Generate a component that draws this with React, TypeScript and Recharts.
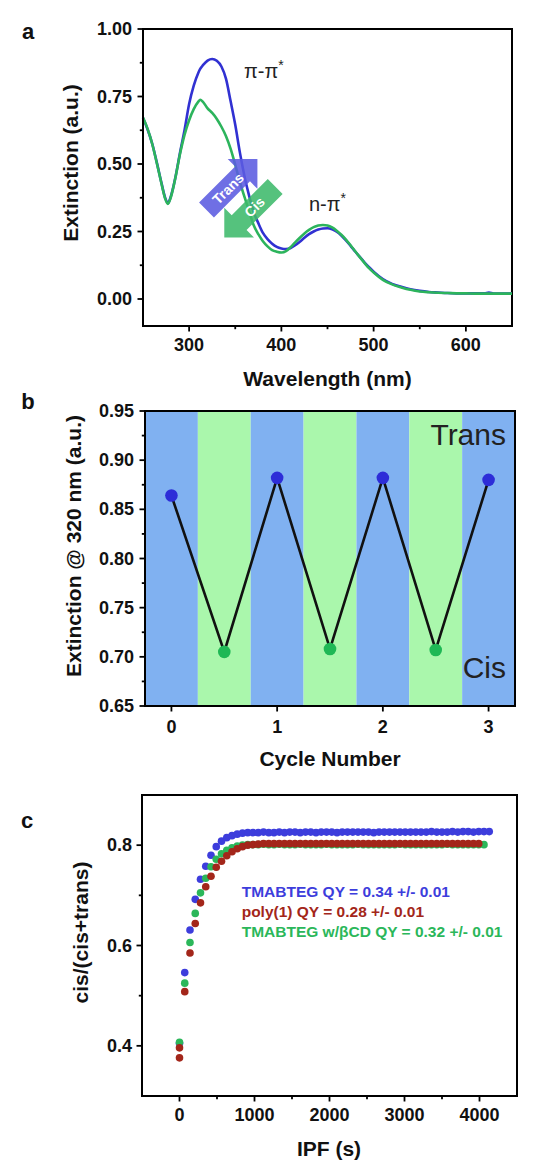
import React from 'react'
import { LineChart, Line, ComposedChart, ScatterChart, Scatter, XAxis, YAxis, ReferenceArea } from 'recharts'

const FONT = '"Liberation Sans", Arial, Helvetica, sans-serif'

// ---- panel a: extinction spectra ----
const WAVELENGTHS = [
  250, 255, 260, 265, 270, 274, 277, 280, 285, 290, 295, 300, 305, 310, 312, 315, 320, 325, 330, 335,
  340, 345, 350, 355, 360, 365, 370, 375, 380, 385, 390, 395, 400, 405, 410, 415, 420, 425, 430, 435,
  440, 445, 450, 455, 460, 465, 470, 475, 480, 485, 490, 495, 500, 510, 520, 530, 540, 550, 560, 570,
  580, 590, 600, 610, 620, 625, 630, 640, 650,
]
const TRANS_SPECTRUM = [
  0.670, 0.628, 0.575, 0.505, 0.430, 0.375, 0.355, 0.378, 0.448, 0.540, 0.625, 0.722, 0.790, 0.838, 0.852, 0.866, 0.883, 0.889, 0.882, 0.861,
  0.815, 0.732, 0.645, 0.543, 0.455, 0.383, 0.322, 0.281, 0.245, 0.222, 0.205, 0.193, 0.187, 0.185, 0.189, 0.199, 0.212, 0.227, 0.240, 0.250,
  0.257, 0.261, 0.262, 0.258, 0.249, 0.235, 0.217, 0.197, 0.176, 0.156, 0.136, 0.118, 0.101, 0.074, 0.056, 0.045, 0.036, 0.030, 0.026, 0.024,
  0.022, 0.021, 0.021, 0.021, 0.021, 0.024, 0.020, 0.020, 0.020,
]
const CIS_SPECTRUM = [
  0.672, 0.630, 0.574, 0.503, 0.428, 0.372, 0.352, 0.375, 0.447, 0.535, 0.608, 0.662, 0.703, 0.731, 0.738, 0.730, 0.706, 0.689, 0.667, 0.638,
  0.603, 0.556, 0.497, 0.434, 0.378, 0.325, 0.273, 0.240, 0.214, 0.195, 0.181, 0.175, 0.172, 0.177, 0.192, 0.210, 0.227, 0.243, 0.256, 0.266,
  0.272, 0.274, 0.272, 0.265, 0.253, 0.238, 0.220, 0.199, 0.177, 0.155, 0.134, 0.114, 0.098, 0.071, 0.054, 0.043, 0.034, 0.028, 0.025, 0.023,
  0.022, 0.021, 0.021, 0.020, 0.020, 0.020, 0.020, 0.020, 0.020,
]

// ---- panel b: switching cycles ----
const CYCLES = [0, 0.5, 1, 1.5, 2, 2.5, 3]
const EXT_320 = [0.864, 0.705, 0.882, 0.708, 0.882, 0.707, 0.880]
const BAND_EDGES = [-0.25, 0.25, 0.75, 1.25, 1.75, 2.25, 2.75, 3.25]

// ---- panel c: photostationary kinetics ----
const IPF_TIMES = [
  0, 70, 140, 210, 280, 350, 420, 490, 560, 630, 700, 770, 840, 910, 980, 1050, 1120, 1190, 1260, 1330,
  1400, 1470, 1540, 1610, 1680, 1750, 1820, 1890, 1960, 2030, 2100, 2170, 2240, 2310, 2380, 2450, 2520, 2590, 2660, 2730,
  2800, 2870, 2940, 3010, 3080, 3150, 3220, 3290, 3360, 3430, 3500, 3570, 3640, 3710, 3780, 3850, 3920, 3990, 4060, 4130,
]
const TMABTEG = [
  0.405, 0.546, 0.631, 0.692, 0.732, 0.758, 0.780, 0.797, 0.808, 0.815, 0.819, 0.822, 0.824, 0.825, 0.825,
  0.825, 0.826, 0.825, 0.825, 0.826, 0.825, 0.826, 0.826, 0.825, 0.826, 0.826, 0.825, 0.826, 0.826, 0.826,
  0.825, 0.826, 0.826, 0.826, 0.826, 0.826, 0.826, 0.825, 0.826, 0.826, 0.826, 0.826, 0.826, 0.826, 0.826,
  0.826, 0.826, 0.826, 0.827, 0.826, 0.826, 0.826, 0.827, 0.826, 0.827, 0.827, 0.826, 0.827, 0.827, 0.827,
]
const POLY1 = [
  0.396, 0.508, 0.585, 0.644, 0.685, 0.717, 0.738, 0.756, 0.768, 0.779, 0.787, 0.793, 0.797, 0.800, 0.801, 0.802,
  0.803, 0.803, 0.803, 0.803, 0.803, 0.803, 0.803, 0.803, 0.803, 0.803, 0.803, 0.803, 0.803, 0.803, 0.803,
  0.803, 0.803, 0.803, 0.803, 0.803, 0.803, 0.803, 0.803, 0.803, 0.803, 0.803, 0.803, 0.803, 0.803, 0.803,
  0.803, 0.803, 0.803, 0.803, 0.803, 0.803, 0.803, 0.803, 0.803, 0.803, 0.803, 0.803,
]
const POLY1_EXTRA_T = [0]
const POLY1_EXTRA_V = [0.376]
const TMABTEG_CD = [
  0.407, 0.525, 0.606, 0.664, 0.705, 0.734, 0.757, 0.772, 0.783, 0.790, 0.795, 0.798, 0.800, 0.801,
  0.801, 0.801, 0.802, 0.801, 0.801, 0.802, 0.801, 0.801, 0.801, 0.802, 0.801, 0.801, 0.801, 0.801, 0.802,
  0.801, 0.801, 0.801, 0.801, 0.801, 0.802, 0.801, 0.801, 0.801, 0.801, 0.801, 0.801, 0.801, 0.802, 0.801,
  0.801, 0.801, 0.801, 0.801, 0.801, 0.801, 0.801, 0.802, 0.801, 0.801, 0.801, 0.801, 0.801, 0.801, 0.801,
]
const LEGEND_LINES = [
  'TMABTEG QY = 0.34 +/- 0.01',
  'poly(1) QY = 0.28 +/- 0.01',
  'TMABTEG w/\u03b2CD QY = 0.32 +/- 0.01',
]

const C = {
  transLine: '#3131d2',
  cisLine: '#2cb45c',
  transArrow: '#5b5be0',
  cisArrow: '#3dba6b',
  bandBlue: '#80b1f1',
  bandGreen: '#aaf7ac',
  dotBlue: '#2d2dd8',
  dotGreen: '#1fb855',
  cBlue: '#3d3ddc',
  cRed: '#a3261a',
  cGreen: '#2bb75a',
}

const tickText = { fontFamily: FONT, fontWeight: 700, fontSize: 18, fill: '#111' }
const titleText = { fontFamily: FONT, fontWeight: 700, fontSize: 21, fill: '#111' }

// draws Origin-style outward ticks, labels only on the majors
function axisTick(side: 'bottom' | 'left', majors: number[], digits: number, gap: number) {
  return (props: any) => {
    const { x, y, payload } = props
    const v = payload.value as number
    const major = majors.some((m) => Math.abs(m - v) < 1e-6)
    const len = major ? 5.5 : 3.2
    if (side === 'bottom') {
      return (
        <g>
          <line x1={x} y1={y} x2={x} y2={y + len} stroke="#000" strokeWidth={1.8} />
          {major && (
            <text x={x} y={y + gap} textAnchor="middle" dominantBaseline="central" style={tickText}>
              {v.toFixed(digits)}
            </text>
          )}
        </g>
      )
    }
    return (
      <g>
        <line x1={x - len} y1={y} x2={x} y2={y} stroke="#000" strokeWidth={1.8} />
        {major && (
          <text x={x - gap} y={y} textAnchor="end" dominantBaseline="central" style={tickText}>
            {v.toFixed(digits)}
          </text>
        )}
      </g>
    )
  }
}

const axisLine = { stroke: '#000', strokeWidth: 2 }

function SpectraChart() {
  const data = WAVELENGTHS.map((wl, i) => ({ wl, trans: TRANS_SPECTRUM[i], cis: CIS_SPECTRUM[i] }))
  return (
    <LineChart width={548} height={390} data={data} margin={{ top: 29, right: 36, bottom: 4, left: 83 }}>
      <XAxis
        type="number"
        dataKey="wl"
        domain={[250, 650]}
        ticks={[300, 350, 400, 450, 500, 550, 600]}
        interval={0}
        height={60}
        tickSize={0}
        tickMargin={0}
        tickLine={false}
        axisLine={axisLine}
        tick={axisTick('bottom', [300, 400, 500, 600], 0, 19)}
      />
      <YAxis
        type="number"
        domain={[-0.1, 1]}
        ticks={[0, 0.125, 0.25, 0.375, 0.5, 0.625, 0.75, 0.875, 1]}
        interval={0}
        width={60}
        tickSize={0}
        tickMargin={0}
        tickLine={false}
        axisLine={axisLine}
        tick={axisTick('left', [0, 0.25, 0.5, 0.75, 1], 2, 11)}
      />
      <Line type="monotone" dataKey="trans" stroke={C.transLine} strokeWidth={2.6} dot={false} isAnimationActive={false} />
      <Line type="monotone" dataKey="cis" stroke={C.cisLine} strokeWidth={2.6} dot={false} isAnimationActive={false} />
      <ReferenceArea x1={250} x2={650} y1={-0.1} y2={1} fill="none" fillOpacity={0} stroke="#000" strokeWidth={2} />
    </LineChart>
  )
}

function CycleChart() {
  const data = CYCLES.map((cycle, i) => ({ cycle, ext: EXT_320[i] }))
  return (
    <ComposedChart width={548} height={390} data={data} margin={{ top: 21, right: 33, bottom: 14, left: 85 }}>
      <XAxis
        type="number"
        dataKey="cycle"
        domain={[-0.25, 3.25]}
        ticks={[0, 1, 2, 3]}
        interval={0}
        height={60}
        tickSize={0}
        tickMargin={0}
        tickLine={false}
        axisLine={axisLine}
        tick={axisTick('bottom', [0, 1, 2, 3], 0, 21)}
      />
      <YAxis
        type="number"
        domain={[0.65, 0.95]}
        ticks={[0.65, 0.675, 0.7, 0.725, 0.75, 0.775, 0.8, 0.825, 0.85, 0.875, 0.9, 0.925, 0.95]}
        interval={0}
        width={60}
        tickSize={0}
        tickMargin={0}
        tickLine={false}
        axisLine={axisLine}
        tick={axisTick('left', [0.65, 0.7, 0.75, 0.8, 0.85, 0.9, 0.95], 2, 11)}
      />
      {BAND_EDGES.slice(0, -1).map((x1, i) => (
        <ReferenceArea
          key={i}
          x1={x1}
          x2={BAND_EDGES[i + 1]}
          y1={0.65}
          y2={0.95}
          fill={i % 2 === 0 ? C.bandBlue : C.bandGreen}
          fillOpacity={1}
          stroke="none"
        />
      ))}
      <Line
        type="linear"
        dataKey="ext"
        stroke="#111"
        strokeWidth={2.6}
        isAnimationActive={false}
        dot={(p: any) => (
          <circle
            key={p.index}
            cx={p.cx}
            cy={p.cy}
            r={6.3}
            fill={p.payload.cycle % 1 === 0 ? C.dotBlue : C.dotGreen}
            stroke="none"
          />
        )}
      />
      <ReferenceArea x1={-0.25} x2={3.25} y1={0.65} y2={0.95} fill="none" fillOpacity={0} stroke="#000" strokeWidth={2} />
    </ComposedChart>
  )
}

function KineticsChart() {
  const blue = TMABTEG.map((v, i) => ({ t: IPF_TIMES[i], v }))
  const green = TMABTEG_CD.map((v, i) => ({ t: IPF_TIMES[i], v }))
  const red = POLY1_EXTRA_T.map((t, i) => ({ t, v: POLY1_EXTRA_V[i] })).concat(
    POLY1.map((v, i) => ({ t: IPF_TIMES[i], v }))
  )
  const dot = (fill: string) => (p: any) => <circle cx={p.cx} cy={p.cy} r={3.8} fill={fill} />
  return (
    <ScatterChart width={548} height={381} margin={{ top: 15, right: 31, bottom: 10, left: 82 }}>
      <XAxis
        type="number"
        dataKey="t"
        domain={[-500, 4500]}
        ticks={[0, 500, 1000, 1500, 2000, 2500, 3000, 3500, 4000]}
        interval={0}
        height={55}
        tickSize={0}
        tickMargin={0}
        tickLine={false}
        axisLine={axisLine}
        tick={axisTick('bottom', [0, 1000, 2000, 3000, 4000], 0, 19)}
      />
      <YAxis
        type="number"
        dataKey="v"
        domain={[0.3, 0.9]}
        ticks={[0.4, 0.5, 0.6, 0.7, 0.8]}
        interval={0}
        width={60}
        tickSize={0}
        tickMargin={0}
        tickLine={false}
        axisLine={axisLine}
        tick={axisTick('left', [0.4, 0.6, 0.8], 1, 10)}
      />
      <Scatter data={blue} fill={C.cBlue} shape={dot(C.cBlue)} isAnimationActive={false} />
      <Scatter data={green} fill={C.cGreen} shape={dot(C.cGreen)} isAnimationActive={false} />
      <Scatter data={red} fill={C.cRed} shape={dot(C.cRed)} isAnimationActive={false} />
      <ReferenceArea x1={-500} x2={4500} y1={0.3} y2={0.9} fill="none" fillOpacity={0} stroke="#000" strokeWidth={2} />
    </ScatterChart>
  )
}

// Trans / Cis block arrows, laid over the spectra with a little transparency
function Arrows() {
  const body = 10.5
  const bodyLen = 51
  const head = 21
  const shape = `0,${-body} ${bodyLen},${-body} ${bodyLen},${-head} ${bodyLen + head},0 ${bodyLen},${head} ${bodyLen},${body} 0,${body}`
  const arrowText = { fontFamily: FONT, fontWeight: 700, fontSize: 14, fill: '#fff' }
  return (
    <svg width={548} height={390} style={{ position: 'absolute', left: 0, top: 0, pointerEvents: 'none' }}>
      <polygon points={shape} fill={C.transArrow} fillOpacity={0.88} transform="translate(206.5,210) rotate(-45)" />
      <polygon points={shape} fill={C.cisArrow} fillOpacity={0.88} transform="translate(275.2,186.5) rotate(135)" />
      <text transform="translate(228,188.5) rotate(-45)" textAnchor="middle" dominantBaseline="central" style={arrowText}>
        Trans
      </text>
      <text transform="translate(254.5,207) rotate(-45)" textAnchor="middle" dominantBaseline="central" style={arrowText}>
        Cis
      </text>
    </svg>
  )
}

function Annotations() {
  const letter = { fontFamily: FONT, fontWeight: 700, fontSize: 22, fill: '#111' }
  const band = { fontFamily: FONT, fontSize: 20, fill: '#222' }
  const big = { fontFamily: FONT, fontSize: 30, fill: '#222' }
  const legend = { fontFamily: FONT, fontWeight: 700, fontSize: 15.5 }
  const legendColors = [C.cBlue, C.cRed, C.cGreen]
  return (
    <svg width={548} height={1161} style={{ position: 'absolute', left: 0, top: 0, pointerEvents: 'none' }}>
      <text x={28} y={31} textAnchor="middle" dominantBaseline="central" style={letter}>a</text>
      <text x={28} y={401} textAnchor="middle" dominantBaseline="central" style={letter}>b</text>
      <text x={27} y={820} textAnchor="middle" dominantBaseline="central" style={letter}>c</text>

      {/* panel a */}
      <text x={244} y={78} style={band}>
        π-π<tspan dy={-8} fontSize={14}>*</tspan>
      </text>
      <text x={309} y={211} style={band}>
        n-π<tspan dy={-8} fontSize={14}>*</tspan>
      </text>
      <text transform="translate(70,163) rotate(-90)" textAnchor="middle" dominantBaseline="central" style={titleText}>
        Extinction (a.u.)
      </text>
      <text x={327.5} y={378} textAnchor="middle" dominantBaseline="central" style={titleText}>
        Wavelength (nm)
      </text>

      {/* panel b */}
      <text x={506} y={445} textAnchor="end" style={big}>Trans</text>
      <text x={506} y={678} textAnchor="end" style={big}>Cis</text>
      <text transform="translate(73,546) rotate(-90)" textAnchor="middle" dominantBaseline="central" style={titleText}>
        Extinction @ 320 nm (a.u.)
      </text>
      <text x={330} y={758} textAnchor="middle" dominantBaseline="central" style={titleText}>
        Cycle Number
      </text>

      {/* panel c */}
      {LEGEND_LINES.map((line, i) => (
        <text key={line} x={241.7} y={891.7 + i * 20} dominantBaseline="central" style={{ ...legend, fill: legendColors[i] }}>
          {line}
        </text>
      ))}
      <text transform="translate(80,932.5) rotate(-90)" textAnchor="middle" dominantBaseline="central" style={titleText}>
        cis/(cis+trans)
      </text>
      <text x={329} y={1148} textAnchor="middle" dominantBaseline="central" style={titleText}>
        IPF (s)
      </text>
    </svg>
  )
}

export default function App() {
  return (
    <div style={{ position: 'absolute', left: 0, top: 0, width: 548, height: 1161, background: '#fff', fontFamily: FONT }}>
      <div style={{ position: 'absolute', left: 0, top: 0 }}>
        <SpectraChart />
      </div>
      <div style={{ position: 'absolute', left: 0, top: 390 }}>
        <CycleChart />
      </div>
      <div style={{ position: 'absolute', left: 0, top: 780 }}>
        <KineticsChart />
      </div>
      <Arrows />
      <Annotations />
    </div>
  )
}
